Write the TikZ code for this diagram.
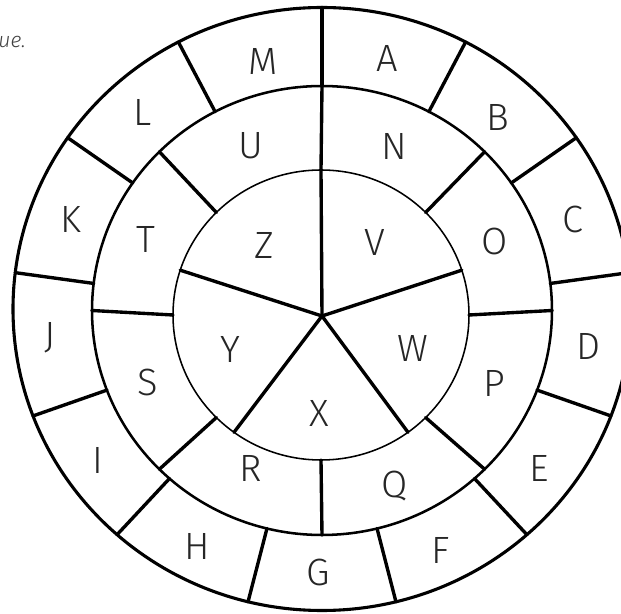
\documentclass[tikz,border=0pt]{standalone}
\usepackage{fontspec}
\usepackage{tikz}
\usetikzlibrary{calc}
\newfontfamily\lettfont{Fira Sans Light}
\newfontfamily\notefont{Fira Sans Light Italic}

\begin{document}
\begin{tikzpicture}[x=0.025cm,y=0.025cm,
  letter/.style={font=\lettfont\fontsize{27}{30}\selectfont,text=black!85,inner sep=0pt},
  spoke/.style={line width=2.4pt,line cap=round},
  outerring/.style={line width=2.2pt},
  midring/.style={line width=1.8pt},
  innerring/.style={line width=1.1pt}
]
\useasboundingbox (0,0) rectangle (621,614);
\coordinate (co) at (322,305);
\coordinate (cm) at (322,303.5);
\coordinate (ci) at (321,299);
\coordinate (hub) at (322,298);
% rings
\draw[outerring] (co) ellipse (309 and 301.5);
\draw[midring] (cm) ellipse (230 and 224.5);
\draw[innerring] (ci) ellipse (148 and 145);
% dividers
\foreach \k in {0,...,12}
  \draw[spoke] ($(cm)+({90-27.6923*\k}:230 and 224.5)$) -- ($(co)+({90-27.6923*\k}:309 and 301.5)$);
\foreach \k in {0,...,7}
  \draw[spoke] ($(ci)+({90-45*\k}:148 and 145)$) -- ($(cm)+({90-45*\k}:230 and 224.5)$);
\foreach \k in {0,...,4}
  \draw[spoke] (hub) -- ($(ci)+({90-72*\k}:148 and 145)$);
% outer letters
\node[letter] (outerA) at (387,556) {A};
\node[letter] (outerB) at (498,497) {B};
\node[letter] (outerC) at (573,395) {C};
\node[letter] (outerD) at (588,268) {D};
\node[letter] (outerE) at (539,146) {E};
\node[letter] (outerF) at (441,64) {F};
\node[letter] (outerG) at (318,42) {G};
\node[letter] (outerH) at (197,68) {H};
\node[letter] (outerI) at (98,154) {I};
\node[letter] (outerJ) at (50,276) {J};
\node[letter] (outerK) at (71,395) {K};
\node[letter] (outerL) at (143,502) {L};
\node[letter] (outerM) at (263,553) {M};
% middle letters
\node[letter] (midN) at (394,468) {N};
\node[letter] (midO) at (495,373) {O};
\node[letter] (midP) at (494,231) {P};
\node[letter] (midQ) at (395,128) {Q};
\node[letter] (midR) at (251,146) {R};
\node[letter] (midS) at (148,232) {S};
\node[letter] (midT) at (146,375) {T};
\node[letter] (midU) at (251,468) {U};
% inner letters
\node[letter] (innerV) at (375,372) {V};
\node[letter] (innerW) at (413,266) {W};
\node[letter] (innerX) at (319,201) {X};
\node[letter] (innerY) at (230,265) {Y};
\node[letter] (innerZ) at (264,369) {Z};
\node[font=\notefont\fontsize{15}{17}\selectfont,text=black!75,anchor=base east,inner sep=0pt] (note) at (26,566) {ue.};
\end{tikzpicture}
\end{document}
